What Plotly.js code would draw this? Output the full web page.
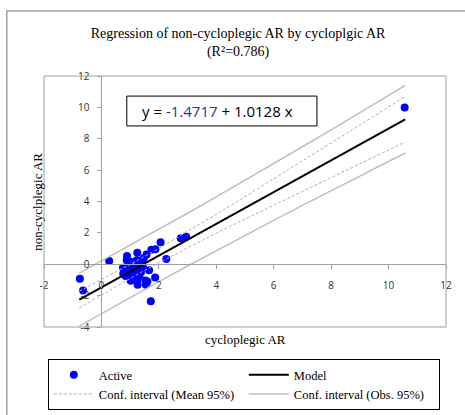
<!DOCTYPE html>
<html>
<head>
<meta charset="utf-8">
<script src="https://cdn.plot.ly/plotly-3.0.1.min.js"></script>
<style>html,body{margin:0;padding:0;background:#fff;} #chart{width:465px;height:415px;}</style>
</head>
<body>
<div id="chart"></div>
<script>
// Observations (cycloplegic AR, non-cycloplegic AR)
const obsX = [10.56, -0.75, -0.64, 0.27, 2.06, 2.76, 2.95, 2.26, 1.72, 1.74, 1.88, 1.25, 1.57, 0.89, 0.88, 0.99, 1.23, 1.42, 1.30, 0.75, 0.93, 1.10, 1.22, 1.45, 1.66, 0.76, 0.84, 1.00, 1.16, 1.38, 1.02, 1.25, 1.26, 1.53, 1.55, 1.87, 1.60, 1.05, 1.32, 1.48, 0.95];
const obsY = [10.0, -0.93, -1.68, 0.20, 1.41, 1.65, 1.76, 0.33, -2.36, 0.93, 0.95, 0.74, 0.62, 0.53, 0.25, 0.17, 0.25, 0.24, 0.02, -0.22, -0.32, -0.28, -0.38, -0.20, -0.38, -0.60, -0.75, -0.55, -0.62, -0.50, -1.05, -1.00, -1.30, -1.03, -1.30, -0.85, -1.10, -0.80, -0.75, 0.40, -0.10];

// Model line end points
const modelX = [-0.77, 10.58];
const modelY = [-2.25, 9.24];

// Confidence bands
const ciX     = [-0.77, 0.5, 1.2, 2, 3, 4, 5, 6, 7, 8, 9, 10.58];
const meanLo  = [-2.78, -1.42, -0.70, 0.10, 1.05, 1.98, 2.88, 3.77, 4.66, 5.54, 6.41, 7.80];
const meanHi  = [-1.72, -0.51, 0.19, 1.01, 2.08, 3.19, 4.31, 5.44, 6.58, 7.73, 8.87, 10.69];
const obsLo   = [-3.94, -2.63, -1.92, -1.11, -0.11, 0.87, 1.84, 2.80, 3.75, 4.69, 5.63, 7.09];
const obsHi   = [-0.57, 0.70, 1.40, 2.22, 3.25, 4.29, 5.34, 6.41, 7.49, 8.57, 9.66, 11.40];

const xTicks = [-2, 0, 2, 4, 6, 8, 10, 12];
const yTicks = [-4, -2, 0, 2, 4, 6, 8, 10, 12];

const chartTitle = 'Regression of non-cycloplegic AR by cycloplgic AR<br>(R²=0.786)';
const xTitle = 'cycloplegic AR';
const yTitle = 'non-cyclplegic AR';
const eqText = 'y = <span style="color:#2e3192">-1.4717</span> + 1.0128 x';

const serif = '"Liberation Serif", "Times New Roman", serif';
const sans = '"Open Sans", "Liberation Sans", sans-serif';

const traces = [
  {x: obsX, y: obsY, mode: 'markers', type: 'scatter', name: 'Active',
   marker: {color: '#0000ff', size: 8}, legendrank: 1, hoverinfo: 'x+y'},
  {x: ciX, y: obsHi, mode: 'lines', type: 'scatter', name: 'Conf. interval (Obs. 95%)',
   line: {color: '#bfbfbf', width: 1.5}, legendgroup: 'obs', legendrank: 4},
  {x: ciX, y: obsLo, mode: 'lines', type: 'scatter', name: 'Conf. interval (Obs. 95%)',
   line: {color: '#bfbfbf', width: 1.5}, legendgroup: 'obs', showlegend: false},
  {x: ciX, y: meanHi, mode: 'lines', type: 'scatter', name: 'Conf. interval (Mean 95%)',
   line: {color: '#b0b0b0', width: 1, dash: '3px,2px'}, legendgroup: 'mean', legendrank: 3},
  {x: ciX, y: meanLo, mode: 'lines', type: 'scatter', name: 'Conf. interval (Mean 95%)',
   line: {color: '#b0b0b0', width: 1, dash: '3px,2px'}, legendgroup: 'mean', showlegend: false},
  {x: modelX, y: modelY, mode: 'lines', type: 'scatter', name: 'Model',
   line: {color: '#000000', width: 2}, legendrank: 2}
];

const axisCommon = {
  showgrid: false, zeroline: false, showline: true, linecolor: '#a0a0a0', linewidth: 1,
  ticks: 'outside', ticklen: 4, tickcolor: '#a0a0a0', tickwidth: 1,
  tickfont: {family: sans, size: 10, color: '#333'}, anchor: 'free', fixedrange: true
};

const layout = {
  width: 465, height: 415,
  margin: {l: 44, r: 19, t: 76, b: 88, autoexpand: false},
  paper_bgcolor: '#fff', plot_bgcolor: '#fff',
  title: {text: chartTitle, font: {family: serif, size: 14, color: '#000'},
          x: 0.512, xref: 'container', xanchor: 'center',
          y: 1 - 38/415, yref: 'container', yanchor: 'top'},
  xaxis: Object.assign({}, axisCommon, {range: [-2, 12], tickvals: xTicks, ticktext: xTicks.map(String),
          position: 0.25, ticklabelstandoff: 8}),
  yaxis: Object.assign({}, axisCommon, {range: [-4, 12], tickvals: yTicks, ticktext: yTicks.map(String),
          position: 1/7, ticklabelstandoff: 6}),
  showlegend: true,
  legend: {orientation: 'h', x: 0.0095, xanchor: 'left', y: (327-359)/251, yanchor: 'top',
           bordercolor: '#000', borderwidth: 1, bgcolor: '#fff',
           font: {family: serif, size: 12.5, color: '#000'},
           entrywidth: 140, itemwidth: 40, traceorder: 'normal'},
  shapes: [
    {type: 'rect', xref: 'paper', yref: 'paper', x0: 0, x1: 1, y0: 0, y1: 1,
     line: {color: '#a0a0a0', width: 1}},
    {type: 'rect', xref: 'paper', yref: 'paper', x0: -0.0925, x1: 1.2, y0: -0.5, y1: 1.259,
     line: {color: '#a0a0a0', width: 1.5}},
    {type: 'rect', xref: 'paper', yref: 'paper', x0: 0.206, x1: 0.679, y0: 0.801, y1: 0.920,
     line: {color: '#000', width: 1}, fillcolor: '#fff', layer: 'above'}
  ],
  annotations: [
    {text: eqText, xref: 'paper', yref: 'paper', x: 0.238, y: 0.8605, xanchor: 'left', yanchor: 'middle',
     showarrow: false, font: {family: sans, size: 15, color: '#000'}},
    {text: xTitle, xref: 'paper', yref: 'paper', x: 0.5, y: (327-339)/251, xanchor: 'center', yanchor: 'middle',
     showarrow: false, font: {family: serif, size: 13, color: '#000'}},
    {text: yTitle, xref: 'paper', yref: 'paper', x: (37-44.2)/402, y: (327-202)/251, xanchor: 'center', yanchor: 'middle',
     textangle: -90, showarrow: false, font: {family: serif, size: 13, color: '#000'}}
  ]
};

Plotly.newPlot('chart', traces, layout, {displayModeBar: false, staticPlot: true});
</script>
</body>
</html>
